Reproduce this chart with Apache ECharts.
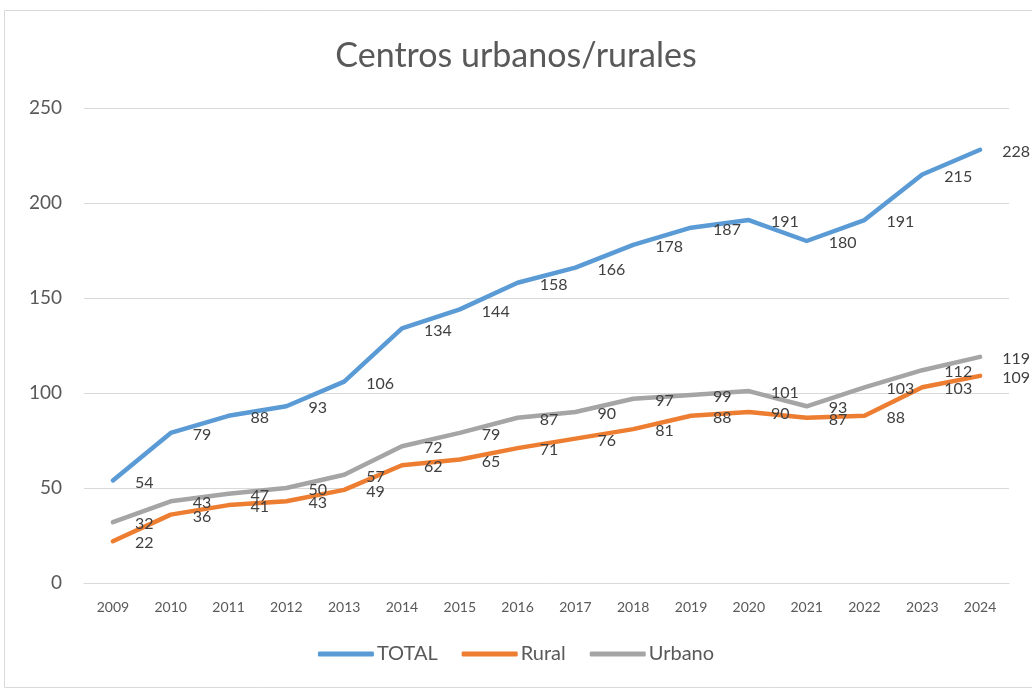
<!doctype html>
<html>
<head>
    <meta charset="utf-8">
    <title>Centros urbanos/rurales</title>
    <script src="https://cdn.jsdelivr.net/npm/echarts@6/dist/echarts.min.js"></script>
    <style>
        html, body { margin: 0; padding: 0; background: #fff; }
        #chart { width: 1032px; height: 690px; }
    </style>
</head>
<body>
<div id="chart"></div>
<script type="text/javascript">
    // datos
    var years = ['2009', '2010', '2011', '2012', '2013', '2014', '2015', '2016', '2017', '2018', '2019', '2020', '2021', '2022', '2023', '2024'];
    var total = [54, 79, 88, 93, 106, 134, 144, 158, 166, 178, 187, 191, 180, 191, 215, 228];
    var rural = [22, 36, 41, 43, 49, 62, 65, 71, 76, 81, 88, 90, 87, 88, 103, 109];
    var urbano = [32, 43, 47, 50, 57, 72, 79, 87, 90, 97, 99, 101, 93, 103, 112, 119];

    var font = 'Lato, "Open Sans", sans-serif';

    function serie(name, data, color) {
        return {
            name: name,
            type: 'line',
            data: data,
            symbol: 'circle',
            symbolSize: 0.1,
            lineStyle: { color: color, width: 4.5, cap: 'round', join: 'round' },
            itemStyle: { color: color },
            label: {
                show: true,
                position: 'right',
                distance: 22,
                offset: [0, 2],
                color: '#404040',
                fontSize: 16,
                fontFamily: font
            },
            emphasis: { disabled: true }
        };
    }

    var myChart = echarts.init(document.getElementById('chart'));
    var option = {
        animation: false,
        textStyle: { fontFamily: font },
        graphic: [{
            type: 'rect',
            shape: { x: 4.5, y: 10.5, width: 1040, height: 677 },
            style: { fill: 'none', stroke: '#d9d9d9', lineWidth: 1 },
            silent: true
        }],
        title: {
            text: 'Centros urbanos/rurales',
            left: 'center',
            top: 34,
            textStyle: { fontFamily: font, fontSize: 34, fontWeight: 'normal', color: '#595959' }
        },
        legend: {
            data: ['TOTAL', 'Rural', 'Urbano'],
            bottom: 21,
            left: 'center',
            icon: 'roundRect',
            itemWidth: 56,
            itemHeight: 5,
            itemGap: 24,
            textStyle: { fontFamily: font, fontSize: 20, color: '#595959', padding: [0, 0, 0, -2] }
        },
        grid: { left: 84, right: 23, top: 108, bottom: 107, containLabel: false },
        xAxis: {
            type: 'category',
            data: years,
            boundaryGap: true,
            axisLine: { lineStyle: { color: '#d9d9d9', width: 1 } },
            axisTick: { show: false },
            axisLabel: { color: '#595959', fontSize: 14, margin: 17, fontFamily: font }
        },
        yAxis: {
            type: 'value',
            min: 0,
            max: 250,
            interval: 50,
            axisLine: { show: false },
            axisTick: { show: false },
            axisLabel: { color: '#595959', fontSize: 19, margin: 22, fontFamily: font },
            splitLine: { lineStyle: { color: '#d9d9d9', width: 1 } }
        },
        series: [
            serie('TOTAL', total, '#5b9bd5'),
            serie('Rural', rural, '#ed7d31'),
            serie('Urbano', urbano, '#a5a5a5')
        ]
    };
    myChart.setOption(option);
</script>
</body>
</html>
